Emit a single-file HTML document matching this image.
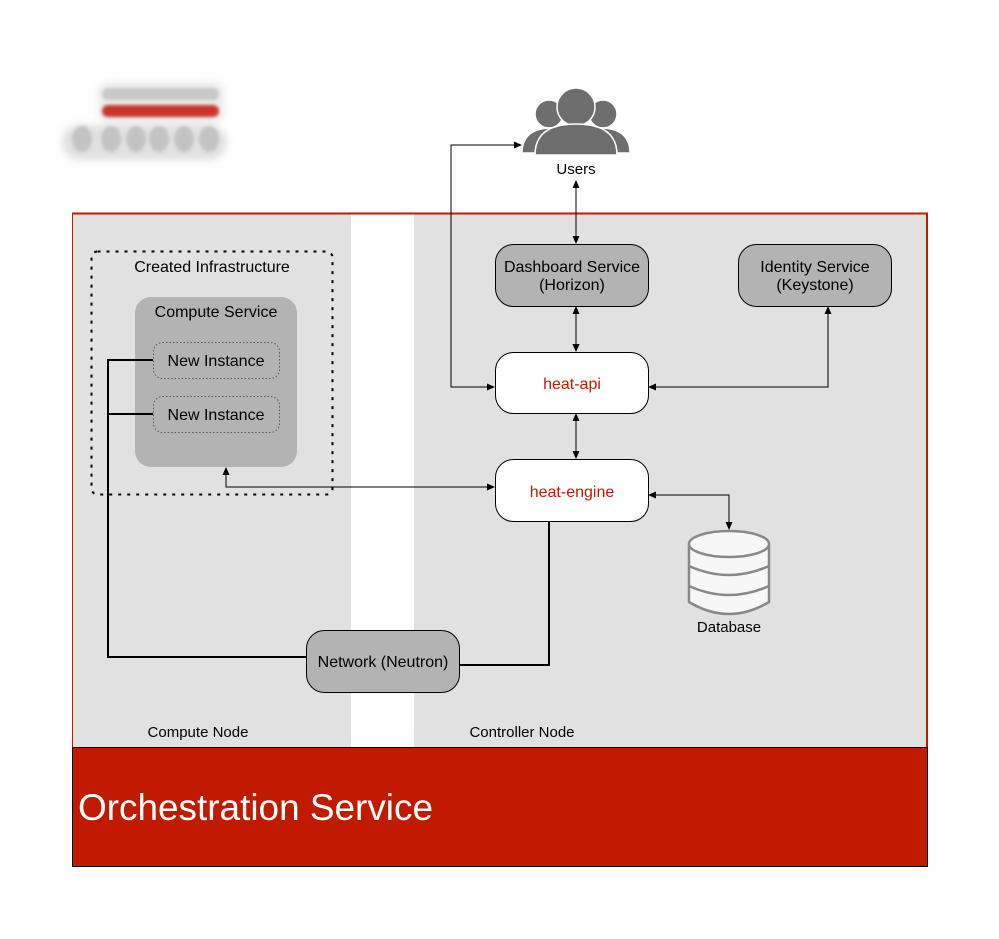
<!DOCTYPE html>
<html><head><meta charset="utf-8"><style>
html,body{margin:0;padding:0;background:#fff;}
svg{display:block;font-family:"Liberation Sans",Arial,sans-serif;}
</style></head><body>
<svg width="999" height="939" viewBox="0 0 999 939" xmlns="http://www.w3.org/2000/svg">
<defs>
<marker id="a" markerWidth="8" markerHeight="8" refX="7" refY="4" orient="auto-start-reverse" markerUnits="userSpaceOnUse">
<path d="M0,0.5 L8,4 L0,7.5 z" fill="#000"/></marker>
<filter id="blur"><feGaussianBlur stdDeviation="4"/></filter>
<filter id="blur2"><feGaussianBlur stdDeviation="1.5"/></filter>
</defs>
<!-- logo -->
<g filter="url(#blur)" opacity="0.6">
<rect x="62" y="125" width="165" height="35" rx="17" fill="#ccc"/>
<rect x="98" y="82" width="126" height="40" rx="10" fill="#ddd"/>
</g>
<g filter="url(#blur2)">
<rect x="102" y="88" width="117" height="12" rx="6" fill="#c8c8c8"/>
<rect x="102" y="105" width="117" height="12" rx="6" fill="#c9342a"/>
<ellipse cx="82" cy="139" rx="10" ry="13" fill="#c4c4c4"/>
<ellipse cx="111" cy="139" rx="10" ry="13" fill="#c4c4c4"/>
<ellipse cx="136" cy="139" rx="10" ry="13" fill="#c4c4c4"/>
<ellipse cx="159" cy="139" rx="10" ry="13" fill="#c4c4c4"/>
<ellipse cx="184" cy="139" rx="10" ry="13" fill="#c4c4c4"/>
<ellipse cx="209" cy="139" rx="10" ry="13" fill="#c4c4c4"/>
</g>
<!-- panels -->
<rect x="72" y="214" width="279" height="533" fill="#e1e1e1"/>
<rect x="414" y="214" width="514" height="533" fill="#e1e1e1"/>
<line x1="72" y1="213.5" x2="928" y2="213.5" stroke="#c01a00" stroke-width="2"/>
<line x1="927" y1="213" x2="927" y2="747" stroke="#c01a00" stroke-width="2"/>
<line x1="72.5" y1="213" x2="72.5" y2="747" stroke="#c01a00" stroke-width="1"/>
<rect x="72.5" y="747.5" width="855" height="119" fill="#c01a00" stroke="#000" stroke-width="1"/>
<text x="78" y="820" font-size="37" fill="#fff" textLength="355" lengthAdjust="spacingAndGlyphs">Orchestration Service</text>
<text x="198" y="737" font-size="15" text-anchor="middle">Compute Node</text>
<text x="522" y="737" font-size="15" text-anchor="middle">Controller Node</text>
<!-- created infra -->
<rect x="91.5" y="251.5" width="241" height="243" rx="6" fill="none" stroke="#000" stroke-width="2" stroke-dasharray="3,6"/>
<text x="212" y="272" font-size="16" text-anchor="middle">Created Infrastructure</text>
<rect x="135" y="297" width="162" height="170" rx="16" fill="#b3b3b3"/>
<text x="216" y="317" font-size="16" text-anchor="middle">Compute Service</text>
<rect x="153.5" y="342.5" width="126" height="36" rx="9" fill="none" stroke="#555" stroke-width="1" stroke-dasharray="1.5,2"/>
<text x="216" y="366" font-size="16" text-anchor="middle">New Instance</text>
<rect x="153.5" y="396.5" width="126" height="36" rx="9" fill="none" stroke="#555" stroke-width="1" stroke-dasharray="1.5,2"/>
<text x="216" y="420" font-size="16" text-anchor="middle">New Instance</text>
<!-- users -->
<g fill="#6e6e6e" stroke="#fff" stroke-width="1.5">
<circle cx="549" cy="114" r="14"/>
<circle cx="603" cy="114" r="14"/>
<path d="M522,153 Q522,128 552,128 Q582,128 582,153 z"/>
<path d="M570,153 Q570,128 600,128 Q630,128 630,153 z"/>
<circle cx="576" cy="107" r="19"/>
<path d="M535,155 Q535,124 576,124 Q617,124 617,155 z"/>
</g>
<text x="576" y="174" font-size="15" text-anchor="middle">Users</text>
<!-- boxes -->
<rect x="495.5" y="244.5" width="153" height="62" rx="18" fill="#b3b3b3" stroke="#000"/>
<text x="572" y="272" font-size="16" text-anchor="middle">Dashboard Service</text>
<text x="572" y="290" font-size="16" text-anchor="middle">(Horizon)</text>
<rect x="738.5" y="244.5" width="153" height="62" rx="18" fill="#b3b3b3" stroke="#000"/>
<text x="815" y="272" font-size="16" text-anchor="middle">Identity Service</text>
<text x="815" y="290" font-size="16" text-anchor="middle">(Keystone)</text>
<rect x="495.5" y="352.5" width="153" height="61" rx="18" fill="#fff" stroke="#000"/>
<text x="572" y="389" font-size="16" text-anchor="middle" fill="#c01a00">heat-api</text>
<rect x="495.5" y="459.5" width="153" height="62" rx="18" fill="#fff" stroke="#000"/>
<text x="572" y="497" font-size="16" text-anchor="middle" fill="#c01a00">heat-engine</text>
<rect x="306.5" y="630.5" width="153" height="62" rx="18" fill="#b3b3b3" stroke="#000"/>
<text x="383" y="667" font-size="16" text-anchor="middle">Network (Neutron)</text>
<!-- database -->
<g stroke="#888" stroke-width="2.5" fill="#f7f7f7">
<path d="M689,544 L689,602 Q729,626 769,602 L769,544"/>
<ellipse cx="729" cy="544" rx="40" ry="13"/>
<path d="M689,566 Q729,584 769,566" fill="none"/>
<path d="M689,586 Q729,604 769,586" fill="none"/>
</g>
<text x="729" y="632" font-size="15" text-anchor="middle">Database</text>
<!-- connectors -->
<g fill="none" stroke="#000" stroke-width="1">
<line x1="576" y1="181" x2="576" y2="243" marker-start="url(#a)" marker-end="url(#a)"/>
<line x1="576" y1="307" x2="576" y2="351" marker-start="url(#a)" marker-end="url(#a)"/>
<line x1="576" y1="414" x2="576" y2="458" marker-start="url(#a)" marker-end="url(#a)"/>
<polyline points="649,387 828,387 828,307" marker-start="url(#a)" marker-end="url(#a)"/>
<polyline points="494,387 451,387 451,145 521,145" marker-start="url(#a)" marker-end="url(#a)"/>
<polyline points="494,487 226,487 226,468" marker-start="url(#a)" marker-end="url(#a)"/>
<polyline points="649,495 729,495 729,529" marker-start="url(#a)" marker-end="url(#a)"/>
</g>
<g fill="none" stroke="#000" stroke-width="2">
<polyline points="549,522 549,665 460,665"/>
<polyline points="306,657 108,657 108,360 153,360"/>
<line x1="108" y1="414" x2="153" y2="414"/>
</g>
</svg>
</body></html>
